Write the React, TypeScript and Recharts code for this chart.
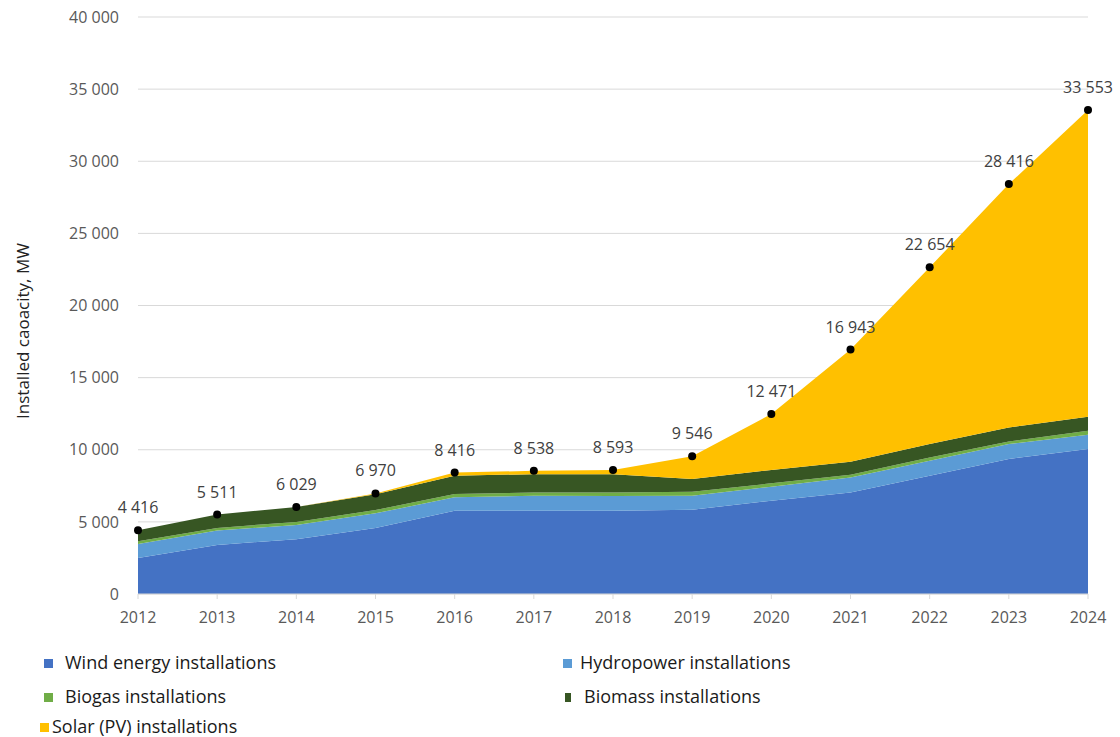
import React from 'react';
import { ComposedChart, Area, Line, XAxis, YAxis, CartesianGrid, LabelList } from 'recharts';

// installed capacity by source, MW (read from the stacked areas)
const years = ['2012', '2013', '2014', '2015', '2016', '2017', '2018', '2019', '2020', '2021', '2022', '2023', '2024'];
const wind = [2500, 3400, 3800, 4570, 5770, 5770, 5770, 5840, 6470, 7040, 8200, 9360, 10050];
const hydro = [970, 1000, 980, 1020, 930, 1040, 1030, 970, 970, 1040, 1040, 1040, 990];
const biogas = [180, 180, 220, 230, 230, 230, 240, 280, 230, 190, 230, 180, 280];
const biomass = [766, 931, 1029, 1100, 1270, 1270, 1270, 880, 930, 900, 930, 970, 970];
const solar = [0, 0, 0, 50, 216, 228, 283, 1576, 3871, 7773, 12254, 16866, 21263];
const totals = [4416, 5511, 6029, 6970, 8416, 8538, 8593, 9546, 12471, 16943, 22654, 28416, 33553];
const yTicks = [0, 5000, 10000, 15000, 20000, 25000, 30000, 35000, 40000];

const data = years.map((year, i) => ({
  year,
  wind: wind[i],
  hydro: hydro[i],
  biogas: biogas[i],
  biomass: biomass[i],
  solar: solar[i],
  total: totals[i],
}));

const COLORS = {
  wind: '#4472C4',
  hydro: '#5B9BD5',
  biogas: '#70AD47',
  biomass: '#375623',
  solar: '#FFC000',
};

const FONT = '"Open Sans", sans-serif';

const fmt = (v: number) => v.toLocaleString('en-US').replace(/,/g, ' ');

const TotalLabel = (props: any) => {
  const { x, y, value } = props;
  return (
    <text x={x} y={y - 17} textAnchor="middle" fontSize={16} fill="#404040" fontFamily={FONT}>
      {fmt(value)}
    </text>
  );
};

const legendItems = [
  { key: 'wind', label: 'Wind energy installations', left: 44, top: 654, textLeft: 65 },
  { key: 'hydro', label: 'Hydropower installations', left: 563, top: 654, textLeft: 580 },
  { key: 'biogas', label: 'Biogas installations', left: 44, top: 688, textLeft: 65 },
  { key: 'biomass', label: 'Biomass installations', left: 565, top: 688, textLeft: 584 },
  { key: 'solar', label: 'Solar (PV) installations', left: 40, top: 718, textLeft: 52 },
];

export default function App() {
  return (
    <div style={{ position: 'absolute', left: 0, top: 0, width: 1120, height: 737, background: '#fff', fontFamily: FONT }}>
      <ComposedChart width={1120} height={640} data={data} margin={{ top: 17, right: 32, bottom: 16, left: 0 }}>
        <CartesianGrid vertical={false} stroke="#d9d9d9" />
        <XAxis
          dataKey="year"
          height={30}
          axisLine={{ stroke: '#d9d9d9' }}
          tickLine={{ stroke: '#d9d9d9' }}
          tickSize={5}
          tickMargin={13}
          tick={{ fontSize: 16, fill: '#595959', fontFamily: FONT }}
        />
        <YAxis
          width={138}
          domain={[0, 40000]}
          ticks={yTicks}
          axisLine={false}
          tickLine={false}
          tickMargin={13}
          tickFormatter={fmt}
          tick={{ fontSize: 16, fill: '#595959', fontFamily: FONT }}
        />
        <Area type="linear" dataKey="wind" stackId="1" fill={COLORS.wind} stroke="none" fillOpacity={1} isAnimationActive={false} />
        <Area type="linear" dataKey="hydro" stackId="1" fill={COLORS.hydro} stroke="none" fillOpacity={1} isAnimationActive={false} />
        <Area type="linear" dataKey="biogas" stackId="1" fill={COLORS.biogas} stroke="none" fillOpacity={1} isAnimationActive={false} />
        <Area type="linear" dataKey="biomass" stackId="1" fill={COLORS.biomass} stroke="none" fillOpacity={1} isAnimationActive={false} />
        <Area type="linear" dataKey="solar" stackId="1" fill={COLORS.solar} stroke="none" fillOpacity={1} isAnimationActive={false} />
        <Line
          type="linear"
          dataKey="total"
          stroke="none"
          dot={{ r: 4, fill: '#000', stroke: '#000', strokeWidth: 0 }}
          activeDot={false}
          isAnimationActive={false}
        >
          <LabelList dataKey="total" content={TotalLabel} />
        </Line>
      </ComposedChart>

      <div
        style={{
          position: 'absolute',
          left: 22,
          top: 331,
          transform: 'translate(-50%, -50%) rotate(-90deg)',
          whiteSpace: 'nowrap',
          fontSize: 17,
          color: '#222',
        }}
      >
        Installed caoacity, MW
      </div>

      {legendItems.map((item) => (
        <React.Fragment key={item.key}>
          <div
            style={{
              position: 'absolute',
              left: item.left,
              top: item.top + 5,
              width: item.key === 'biomass' ? 6 : 9,
              height: 9,
              background: (COLORS as any)[item.key],
            }}
          />
          <div
            style={{
              position: 'absolute',
              left: item.textLeft,
              top: item.top - 4,
              fontSize: 18,
              color: '#1a1a1a',
              whiteSpace: 'nowrap',
              lineHeight: '24px',
            }}
          >
            {item.label}
          </div>
        </React.Fragment>
      ))}
    </div>
  );
}
